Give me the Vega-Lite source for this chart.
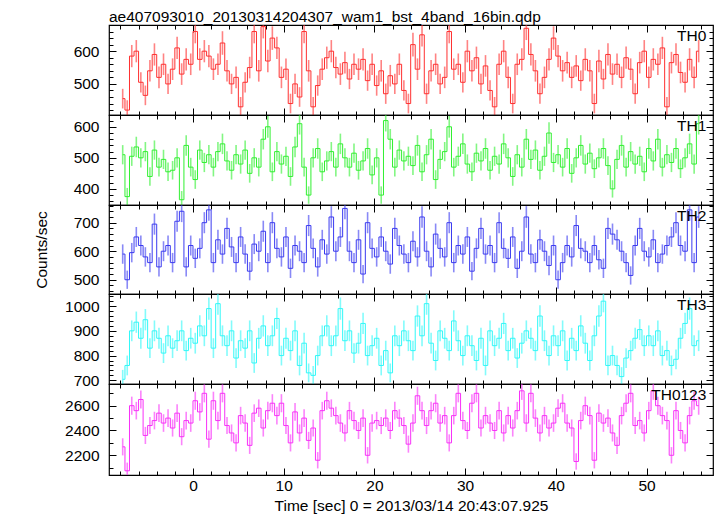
{
  "$schema": "https://vega.github.io/schema/vega-lite/v6.json",
  "background": "white",
  "padding": {"left": 33, "top": 9, "right": 6, "bottom": 2},
  "spacing": 0,
  "bounds": "flush",
  "datasets": {
    "lc": [
      {"t":-7.75,"a":455,"ea":30,"b":510,"eb":31,"c":590,"ec":34,"d":704,"ed":38,"e":2268,"ee":69},
      {"t":-7.25,"a":420,"ea":30,"b":375,"eb":28,"c":500,"ec":32,"d":760,"ed":40,"e":2075,"ee":66},
      {"t":-6.75,"a":585,"ea":34,"b":505,"eb":31,"c":595,"ec":34,"d":900,"ed":42,"e":2600,"ee":73},
      {"t":-6.25,"a":600,"ea":34,"b":535,"eb":33,"c":650,"ec":35,"d":935,"ed":43,"e":2560,"ee":71},
      {"t":-5.75,"a":505,"ea":31,"b":500,"eb":31,"c":620,"ec":35,"d":870,"ed":42,"e":2650,"ee":73},
      {"t":-5.25,"a":465,"ea":30,"b":520,"eb":31,"c":580,"ec":34,"d":945,"ed":43,"e":2360,"ee":69},
      {"t":-4.75,"a":540,"ea":33,"b":440,"eb":30,"c":560,"ec":34,"d":830,"ed":40,"e":2440,"ee":69},
      {"t":-4.25,"a":590,"ea":34,"b":525,"eb":31,"c":695,"ec":37,"d":900,"ed":42,"e":2480,"ee":71},
      {"t":-3.75,"a":520,"ea":33,"b":470,"eb":30,"c":545,"ec":34,"d":870,"ed":42,"e":2540,"ee":71},
      {"t":-3.25,"a":560,"ea":33,"b":495,"eb":31,"c":600,"ec":35,"d":810,"ed":40,"e":2460,"ee":71},
      {"t":-2.75,"a":500,"ea":31,"b":455,"eb":30,"c":620,"ec":35,"d":880,"ed":42,"e":2500,"ee":71},
      {"t":-2.25,"a":545,"ea":33,"b":460,"eb":30,"c":560,"ec":34,"d":830,"ed":40,"e":2420,"ee":69},
      {"t":-1.75,"a":610,"ea":34,"b":500,"eb":31,"c":705,"ec":37,"d":860,"ed":42,"e":2540,"ee":71},
      {"t":-1.25,"a":530,"ea":33,"b":365,"eb":28,"c":740,"ec":38,"d":900,"ed":42,"e":2350,"ee":69},
      {"t":-0.75,"a":575,"ea":34,"b":540,"eb":33,"c":545,"ec":34,"d":820,"ed":40,"e":2480,"ee":71},
      {"t":-0.25,"a":560,"ea":33,"b":470,"eb":30,"c":620,"ec":35,"d":870,"ed":42,"e":2460,"ee":71},
      {"t":0.25,"a":660,"ea":36,"b":430,"eb":30,"c":575,"ec":34,"d":850,"ed":42,"e":2640,"ee":73},
      {"t":0.75,"a":575,"ea":34,"b":525,"eb":31,"c":610,"ec":35,"d":920,"ed":43,"e":2550,"ee":71},
      {"t":1.25,"a":600,"ea":34,"b":485,"eb":31,"c":700,"ec":37,"d":880,"ed":42,"e":2700,"ee":73},
      {"t":1.75,"a":585,"ea":34,"b":510,"eb":31,"c":745,"ec":38,"d":990,"ed":45,"e":2330,"ee":69},
      {"t":2.25,"a":545,"ea":33,"b":470,"eb":30,"c":560,"ec":34,"d":830,"ed":40,"e":2640,"ee":73},
      {"t":2.75,"a":560,"ea":33,"b":520,"eb":31,"c":640,"ec":35,"d":1010,"ed":45,"e":2480,"ee":71},
      {"t":3.25,"a":625,"ea":36,"b":545,"eb":33,"c":590,"ec":34,"d":880,"ed":42,"e":2700,"ee":73},
      {"t":3.75,"a":540,"ea":33,"b":490,"eb":31,"c":680,"ec":37,"d":840,"ed":42,"e":2440,"ee":69},
      {"t":4.25,"a":500,"ea":31,"b":460,"eb":30,"c":615,"ec":35,"d":900,"ed":42,"e":2380,"ee":69},
      {"t":4.75,"a":520,"ea":33,"b":510,"eb":31,"c":560,"ec":34,"d":790,"ed":40,"e":2300,"ee":69},
      {"t":5.25,"a":430,"ea":30,"b":480,"eb":31,"c":650,"ec":35,"d":860,"ed":42,"e":2520,"ee":71},
      {"t":5.75,"a":505,"ea":31,"b":525,"eb":31,"c":590,"ec":34,"d":830,"ed":40,"e":2460,"ee":71},
      {"t":6.25,"a":550,"ea":33,"b":450,"eb":30,"c":530,"ec":32,"d":900,"ed":42,"e":2280,"ee":69},
      {"t":6.75,"a":660,"ea":36,"b":500,"eb":31,"c":625,"ec":35,"d":770,"ed":40,"e":2540,"ee":71},
      {"t":7.25,"a":540,"ea":33,"b":470,"eb":30,"c":600,"ec":35,"d":870,"ed":42,"e":2580,"ee":71},
      {"t":7.75,"a":675,"ea":36,"b":560,"eb":33,"c":670,"ec":37,"d":920,"ed":43,"e":2420,"ee":69},
      {"t":8.25,"a":570,"ea":34,"b":600,"eb":35,"c":560,"ec":34,"d":840,"ed":42,"e":2560,"ee":71},
      {"t":8.75,"a":640,"ea":36,"b":455,"eb":30,"c":700,"ec":37,"d":880,"ed":42,"e":2620,"ee":73},
      {"t":9.25,"a":610,"ea":34,"b":520,"eb":31,"c":610,"ec":35,"d":950,"ed":43,"e":2520,"ee":71},
      {"t":9.75,"a":520,"ea":33,"b":480,"eb":31,"c":580,"ec":34,"d":800,"ed":40,"e":2620,"ee":73},
      {"t":10.25,"a":545,"ea":33,"b":505,"eb":31,"c":650,"ec":35,"d":870,"ed":42,"e":2440,"ee":69},
      {"t":10.75,"a":440,"ea":30,"b":440,"eb":30,"c":540,"ec":34,"d":820,"ed":40,"e":2300,"ee":69},
      {"t":11.25,"a":500,"ea":31,"b":535,"eb":33,"c":620,"ec":35,"d":900,"ed":42,"e":2550,"ee":71},
      {"t":11.75,"a":460,"ea":30,"b":610,"eb":35,"c":600,"ec":35,"d":760,"ed":40,"e":2380,"ee":69},
      {"t":12.25,"a":660,"ea":36,"b":470,"eb":30,"c":560,"ec":34,"d":850,"ed":42,"e":2500,"ee":71},
      {"t":12.75,"a":540,"ea":33,"b":380,"eb":28,"c":690,"ec":37,"d":730,"ed":38,"e":2320,"ee":69},
      {"t":13.25,"a":430,"ea":30,"b":500,"eb":31,"c":610,"ec":35,"d":720,"ed":38,"e":2420,"ee":69},
      {"t":13.75,"a":495,"ea":31,"b":530,"eb":33,"c":545,"ec":34,"d":800,"ed":40,"e":2160,"ee":66},
      {"t":14.25,"a":545,"ea":33,"b":455,"eb":30,"c":640,"ec":35,"d":880,"ed":42,"e":2560,"ee":71},
      {"t":14.75,"a":580,"ea":34,"b":490,"eb":31,"c":590,"ec":34,"d":920,"ed":43,"e":2640,"ee":73},
      {"t":15.25,"a":600,"ea":34,"b":520,"eb":31,"c":720,"ec":38,"d":840,"ed":42,"e":2580,"ee":71},
      {"t":15.75,"a":550,"ea":33,"b":470,"eb":30,"c":600,"ec":35,"d":880,"ed":42,"e":2520,"ee":71},
      {"t":16.25,"a":530,"ea":33,"b":545,"eb":33,"c":650,"ec":35,"d":990,"ed":45,"e":2460,"ee":71},
      {"t":16.75,"a":565,"ea":33,"b":500,"eb":31,"c":750,"ec":38,"d":860,"ed":42,"e":2380,"ee":69},
      {"t":17.25,"a":515,"ea":31,"b":470,"eb":30,"c":600,"ec":35,"d":900,"ed":42,"e":2560,"ee":71},
      {"t":17.75,"a":560,"ea":33,"b":515,"eb":31,"c":560,"ec":34,"d":810,"ed":40,"e":2480,"ee":71},
      {"t":18.25,"a":545,"ea":33,"b":460,"eb":30,"c":640,"ec":35,"d":850,"ed":42,"e":2400,"ee":69},
      {"t":18.75,"a":575,"ea":34,"b":490,"eb":31,"c":520,"ec":32,"d":930,"ed":43,"e":2500,"ee":71},
      {"t":19.25,"a":510,"ea":31,"b":530,"eb":33,"c":700,"ec":37,"d":800,"ed":40,"e":2200,"ee":66},
      {"t":19.75,"a":560,"ea":33,"b":445,"eb":30,"c":610,"ec":35,"d":840,"ed":42,"e":2460,"ee":71},
      {"t":20.25,"a":495,"ea":31,"b":500,"eb":31,"c":580,"ec":34,"d":870,"ed":42,"e":2480,"ee":71},
      {"t":20.75,"a":540,"ea":33,"b":380,"eb":28,"c":650,"ec":35,"d":760,"ed":40,"e":2440,"ee":69},
      {"t":21.25,"a":470,"ea":31,"b":620,"eb":35,"c":600,"ec":35,"d":820,"ed":40,"e":2500,"ee":71},
      {"t":21.75,"a":525,"ea":33,"b":560,"eb":33,"c":555,"ec":34,"d":730,"ed":38,"e":2400,"ee":69},
      {"t":22.25,"a":500,"ea":31,"b":470,"eb":30,"c":680,"ec":37,"d":880,"ed":42,"e":2560,"ee":71},
      {"t":22.75,"a":560,"ea":33,"b":525,"eb":31,"c":620,"ec":35,"d":840,"ed":42,"e":2500,"ee":71},
      {"t":23.25,"a":480,"ea":31,"b":490,"eb":31,"c":590,"ec":34,"d":900,"ed":42,"e":2440,"ee":69},
      {"t":23.75,"a":440,"ea":30,"b":505,"eb":31,"c":560,"ec":34,"d":860,"ed":42,"e":2290,"ee":69},
      {"t":24.25,"a":620,"ea":36,"b":475,"eb":30,"c":635,"ec":35,"d":820,"ed":40,"e":2460,"ee":71},
      {"t":24.75,"a":545,"ea":33,"b":540,"eb":33,"c":580,"ec":34,"d":960,"ed":43,"e":2680,"ee":73},
      {"t":25.25,"a":650,"ea":36,"b":455,"eb":30,"c":720,"ec":38,"d":880,"ed":42,"e":2560,"ee":71},
      {"t":25.75,"a":470,"ea":31,"b":510,"eb":31,"c":600,"ec":35,"d":1010,"ed":45,"e":2440,"ee":69},
      {"t":26.25,"a":540,"ea":33,"b":560,"eb":33,"c":545,"ec":34,"d":850,"ed":42,"e":2560,"ee":71},
      {"t":26.75,"a":560,"ea":33,"b":430,"eb":30,"c":660,"ec":37,"d":780,"ed":40,"e":2620,"ee":73},
      {"t":27.25,"a":500,"ea":31,"b":495,"eb":31,"c":610,"ec":35,"d":900,"ed":42,"e":2460,"ee":71},
      {"t":27.75,"a":520,"ea":33,"b":520,"eb":31,"c":580,"ec":34,"d":870,"ed":42,"e":2520,"ee":71},
      {"t":28.25,"a":660,"ea":36,"b":600,"eb":35,"c":700,"ec":37,"d":820,"ed":40,"e":2300,"ee":69},
      {"t":28.75,"a":545,"ea":33,"b":470,"eb":30,"c":560,"ec":34,"d":940,"ed":43,"e":2520,"ee":71},
      {"t":29.25,"a":560,"ea":33,"b":505,"eb":31,"c":620,"ec":35,"d":860,"ed":42,"e":2700,"ee":73},
      {"t":29.75,"a":505,"ea":31,"b":545,"eb":33,"c":590,"ec":34,"d":800,"ed":40,"e":2480,"ee":71},
      {"t":30.25,"a":600,"ea":34,"b":480,"eb":31,"c":650,"ec":35,"d":880,"ed":42,"e":2400,"ee":69},
      {"t":30.75,"a":540,"ea":33,"b":455,"eb":30,"c":530,"ec":32,"d":840,"ed":42,"e":2620,"ee":73},
      {"t":31.25,"a":580,"ea":34,"b":515,"eb":31,"c":610,"ec":35,"d":780,"ed":40,"e":2700,"ee":73},
      {"t":31.75,"a":500,"ea":31,"b":490,"eb":31,"c":680,"ec":37,"d":870,"ed":42,"e":2420,"ee":69},
      {"t":32.25,"a":555,"ea":33,"b":530,"eb":33,"c":590,"ec":34,"d":760,"ed":40,"e":2520,"ee":71},
      {"t":32.75,"a":480,"ea":31,"b":460,"eb":30,"c":620,"ec":35,"d":900,"ed":42,"e":2460,"ee":71},
      {"t":33.25,"a":430,"ea":30,"b":505,"eb":31,"c":560,"ec":34,"d":840,"ed":42,"e":2400,"ee":69},
      {"t":33.75,"a":560,"ea":33,"b":480,"eb":31,"c":700,"ec":37,"d":870,"ed":42,"e":2560,"ee":71},
      {"t":34.25,"a":600,"ea":34,"b":545,"eb":33,"c":610,"ec":35,"d":930,"ed":43,"e":2380,"ee":69},
      {"t":34.75,"a":520,"ea":33,"b":500,"eb":31,"c":575,"ec":34,"d":820,"ed":40,"e":2520,"ee":71},
      {"t":35.25,"a":440,"ea":30,"b":440,"eb":30,"c":650,"ec":35,"d":870,"ed":42,"e":2420,"ee":69},
      {"t":35.75,"a":560,"ea":33,"b":510,"eb":31,"c":540,"ec":34,"d":790,"ed":40,"e":2560,"ee":71},
      {"t":36.25,"a":575,"ea":34,"b":470,"eb":30,"c":600,"ec":35,"d":850,"ed":42,"e":2720,"ee":73},
      {"t":36.75,"a":670,"ea":36,"b":560,"eb":33,"c":720,"ec":38,"d":900,"ed":42,"e":2460,"ee":71},
      {"t":37.25,"a":590,"ea":34,"b":495,"eb":31,"c":590,"ec":34,"d":870,"ed":42,"e":2700,"ee":73},
      {"t":37.75,"a":540,"ea":33,"b":525,"eb":31,"c":560,"ec":34,"d":820,"ed":40,"e":2500,"ee":71},
      {"t":38.25,"a":470,"ea":31,"b":460,"eb":30,"c":640,"ec":35,"d":960,"ed":43,"e":2380,"ee":69},
      {"t":38.75,"a":520,"ea":33,"b":505,"eb":31,"c":600,"ec":35,"d":860,"ed":42,"e":2520,"ee":71},
      {"t":39.25,"a":575,"ea":34,"b":580,"eb":35,"c":550,"ec":34,"d":800,"ed":40,"e":2420,"ee":69},
      {"t":39.75,"a":640,"ea":36,"b":485,"eb":31,"c":620,"ec":35,"d":880,"ed":42,"e":2460,"ee":71},
      {"t":40.25,"a":585,"ea":34,"b":510,"eb":31,"c":500,"ec":32,"d":840,"ed":42,"e":2580,"ee":71},
      {"t":40.75,"a":540,"ea":33,"b":470,"eb":30,"c":560,"ec":34,"d":900,"ed":42,"e":2620,"ee":73},
      {"t":41.25,"a":565,"ea":33,"b":530,"eb":33,"c":620,"ec":35,"d":780,"ed":40,"e":2460,"ee":71},
      {"t":41.75,"a":520,"ea":33,"b":450,"eb":30,"c":580,"ec":34,"d":870,"ed":42,"e":2420,"ee":69},
      {"t":42.25,"a":555,"ea":33,"b":500,"eb":31,"c":690,"ec":37,"d":820,"ed":40,"e":2150,"ee":66},
      {"t":42.75,"a":510,"ea":31,"b":540,"eb":33,"c":610,"ec":35,"d":920,"ed":43,"e":2480,"ee":71},
      {"t":43.25,"a":575,"ea":34,"b":480,"eb":31,"c":600,"ec":35,"d":850,"ed":42,"e":2600,"ee":73},
      {"t":43.75,"a":540,"ea":33,"b":515,"eb":31,"c":560,"ec":34,"d":780,"ed":40,"e":2520,"ee":71},
      {"t":44.25,"a":440,"ea":30,"b":465,"eb":30,"c":620,"ec":35,"d":880,"ed":42,"e":2160,"ee":66},
      {"t":44.75,"a":570,"ea":34,"b":500,"eb":31,"c":570,"ec":34,"d":960,"ed":43,"e":2540,"ee":71},
      {"t":45.25,"a":515,"ea":31,"b":530,"eb":33,"c":540,"ec":34,"d":1020,"ed":45,"e":2460,"ee":71},
      {"t":45.75,"a":590,"ea":34,"b":475,"eb":30,"c":680,"ec":37,"d":760,"ed":40,"e":2500,"ee":71},
      {"t":46.25,"a":530,"ea":33,"b":400,"eb":28,"c":660,"ec":37,"d":800,"ed":40,"e":2380,"ee":69},
      {"t":46.75,"a":560,"ea":33,"b":495,"eb":31,"c":640,"ec":35,"d":760,"ed":40,"e":2280,"ee":69},
      {"t":47.25,"a":520,"ea":33,"b":540,"eb":33,"c":600,"ec":35,"d":715,"ed":38,"e":2520,"ee":71},
      {"t":47.75,"a":580,"ea":34,"b":470,"eb":30,"c":560,"ec":34,"d":790,"ed":40,"e":2620,"ee":73},
      {"t":48.25,"a":545,"ea":33,"b":520,"eb":31,"c":515,"ec":32,"d":820,"ed":40,"e":2700,"ee":73},
      {"t":48.75,"a":470,"ea":31,"b":480,"eb":31,"c":620,"ec":35,"d":870,"ed":42,"e":2440,"ee":69},
      {"t":49.25,"a":565,"ea":33,"b":505,"eb":31,"c":680,"ec":37,"d":905,"ed":42,"e":2480,"ee":71},
      {"t":49.75,"a":600,"ea":34,"b":455,"eb":30,"c":600,"ec":35,"d":840,"ed":42,"e":2380,"ee":69},
      {"t":50.25,"a":520,"ea":33,"b":530,"eb":33,"c":580,"ec":34,"d":880,"ed":42,"e":2560,"ee":71},
      {"t":50.75,"a":575,"ea":34,"b":490,"eb":31,"c":640,"ec":35,"d":840,"ed":42,"e":2720,"ee":73},
      {"t":51.25,"a":560,"ea":33,"b":560,"eb":33,"c":560,"ec":34,"d":900,"ed":42,"e":2600,"ee":73},
      {"t":51.75,"a":610,"ea":34,"b":470,"eb":30,"c":590,"ec":34,"d":800,"ed":40,"e":2520,"ee":71},
      {"t":52.25,"a":430,"ea":30,"b":510,"eb":31,"c":620,"ec":35,"d":820,"ed":40,"e":2480,"ee":71},
      {"t":52.75,"a":565,"ea":33,"b":485,"eb":31,"c":650,"ec":35,"d":760,"ed":40,"e":2200,"ee":66},
      {"t":53.25,"a":590,"ea":34,"b":530,"eb":33,"c":700,"ec":37,"d":785,"ed":40,"e":2560,"ee":71},
      {"t":53.75,"a":535,"ea":33,"b":465,"eb":30,"c":620,"ec":35,"d":870,"ed":42,"e":2400,"ee":69},
      {"t":54.25,"a":505,"ea":31,"b":500,"eb":31,"c":600,"ec":35,"d":930,"ed":43,"e":2300,"ee":69},
      {"t":54.75,"a":575,"ea":34,"b":545,"eb":33,"c":745,"ec":38,"d":990,"ed":45,"e":2520,"ee":71},
      {"t":55.25,"a":520,"ea":33,"b":480,"eb":31,"c":560,"ec":34,"d":840,"ed":42,"e":2640,"ee":73},
      {"t":55.75,"a":600,"ea":34,"b":610,"eb":35,"c":720,"ec":38,"d":860,"ed":42,"e":2600,"ee":73}
    ]
  },
  "vconcat": [
    {
      "width": 604, "height": 90,
      "title": {"text": "ae407093010_20130314204307_wam1_bst_4band_16bin.qdp", "anchor": "start", "frame": "group", "font": "Liberation Sans", "fontSize": 15.5, "fontWeight": "normal", "color": "black", "offset": -1},
      "data": {"name": "lc"},
      "layer": [
        {"mark": {"type": "errorbar", "color": "#ff3030", "thickness": 1.6, "opacity": 0.6, "clip": true},
         "encoding": {
           "x": {"field": "t", "type": "quantitative", "scale": {"domain": [-9.26, 57.33], "nice": false, "zero": false},
                 "axis": {"orient": "bottom", "values": [-8,-6,-4,-2,0,2,4,6,8,10,12,14,16,18,20,22,24,26,28,30,32,34,36,38,40,42,44,46,48,50,52,54,56], "labels": false, "title": null, "tickSize": {"condition": {"test": "datum.value % 10 === 0", "value": -7}, "value": -4}}},
           "y": {"field": "a", "type": "quantitative", "scale": {"domain": [405, 680], "nice": false, "zero": false},
                 "axis": {"orient": "left", "values": [420,440,460,480,500,520,540,560,580,600,620,640,660], "format": "d", "labelExpr": "datum.value % 100 === 0 ? datum.label : ''", "labelPadding": 17, "title": null, "tickSize": {"condition": {"test": "datum.value % 100 === 0", "value": -7}, "value": -4}}},
           "yError": {"field": "ea"}
         }},
        {"mark": {"type": "line", "interpolate": "step", "color": "#ff3030", "strokeWidth": 1, "clip": true},
         "encoding": {
           "x": {"field": "t", "type": "quantitative", "axis": {"orient": "top", "values": [-8,-6,-4,-2,0,2,4,6,8,10,12,14,16,18,20,22,24,26,28,30,32,34,36,38,40,42,44,46,48,50,52,54,56], "labels": false, "title": null, "tickSize": {"condition": {"test": "datum.value % 10 === 0", "value": -7}, "value": -4}}},
           "y": {"field": "a", "type": "quantitative", "axis": {"orient": "right", "values": [420,440,460,480,500,520,540,560,580,600,620,640,660], "labels": false, "title": null, "tickSize": {"condition": {"test": "datum.value % 100 === 0", "value": -7}, "value": -4}}}
         }},
        {"data": {"values": [{"lab": "TH0"}]},
         "mark": {"type": "text", "align": "right", "baseline": "top", "font": "Liberation Sans", "fontSize": 15.5, "color": "black", "dy": 4},
         "encoding": {"x": {"datum": 56.6, "type": "quantitative", "axis": null}, "y": {"datum": 680, "type": "quantitative", "axis": null}, "text": {"field": "lab"}}}
      ],
      "resolve": {"axis": {"x": "independent", "y": "independent"}}
    },
    {
      "width": 604, "height": 90,
      "data": {"name": "lc"},
      "layer": [
        {"mark": {"type": "errorbar", "color": "#30f030", "thickness": 1.6, "opacity": 0.6, "clip": true},
         "encoding": {
           "x": {"field": "t", "type": "quantitative", "scale": {"domain": [-9.26, 57.33], "nice": false, "zero": false},
                 "axis": {"orient": "bottom", "values": [-8,-6,-4,-2,0,2,4,6,8,10,12,14,16,18,20,22,24,26,28,30,32,34,36,38,40,42,44,46,48,50,52,54,56], "labels": false, "title": null, "tickSize": {"condition": {"test": "datum.value % 10 === 0", "value": -7}, "value": -4}}},
           "y": {"field": "b", "type": "quantitative", "scale": {"domain": [348, 638], "nice": false, "zero": false},
                 "axis": {"orient": "left", "values": [360,380,400,420,440,460,480,500,520,540,560,580,600,620], "format": "d", "labelExpr": "datum.value % 100 === 0 ? datum.label : ''", "labelPadding": 17, "title": null, "tickSize": {"condition": {"test": "datum.value % 100 === 0", "value": -7}, "value": -4}}},
           "yError": {"field": "eb"}
         }},
        {"mark": {"type": "line", "interpolate": "step", "color": "#30f030", "strokeWidth": 1, "clip": true},
         "encoding": {
           "x": {"field": "t", "type": "quantitative", "axis": {"orient": "top", "values": [-8,-6,-4,-2,0,2,4,6,8,10,12,14,16,18,20,22,24,26,28,30,32,34,36,38,40,42,44,46,48,50,52,54,56], "labels": false, "title": null, "tickSize": {"condition": {"test": "datum.value % 10 === 0", "value": -7}, "value": -4}}},
           "y": {"field": "b", "type": "quantitative", "axis": {"orient": "right", "values": [360,380,400,420,440,460,480,500,520,540,560,580,600,620], "labels": false, "title": null, "tickSize": {"condition": {"test": "datum.value % 100 === 0", "value": -7}, "value": -4}}}
         }},
        {"data": {"values": [{"lab": "TH1"}]},
         "mark": {"type": "text", "align": "right", "baseline": "top", "font": "Liberation Sans", "fontSize": 15.5, "color": "black", "dy": 4},
         "encoding": {"x": {"datum": 56.6, "type": "quantitative", "axis": null}, "y": {"datum": 638, "type": "quantitative", "axis": null}, "text": {"field": "lab"}}}
      ],
      "resolve": {"axis": {"x": "independent", "y": "independent"}}
    },
    {
      "width": 604, "height": 89,
      "data": {"name": "lc"},
      "layer": [
        {"mark": {"type": "errorbar", "color": "#3a3af0", "thickness": 1.6, "opacity": 0.6, "clip": true},
         "encoding": {
           "x": {"field": "t", "type": "quantitative", "scale": {"domain": [-9.26, 57.33], "nice": false, "zero": false},
                 "axis": {"orient": "bottom", "values": [-8,-6,-4,-2,0,2,4,6,8,10,12,14,16,18,20,22,24,26,28,30,32,34,36,38,40,42,44,46,48,50,52,54,56], "labels": false, "title": null, "tickSize": {"condition": {"test": "datum.value % 10 === 0", "value": -7}, "value": -4}}},
           "y": {"field": "c", "type": "quantitative", "scale": {"domain": [450, 762], "nice": false, "zero": false},
                 "axis": {"orient": "left", "values": [460,480,500,520,540,560,580,600,620,640,660,680,700,720,740,760], "format": "d", "labelExpr": "datum.value % 100 === 0 ? datum.label : ''", "labelPadding": 17, "title": "Counts/sec", "titlePadding": 24, "tickSize": {"condition": {"test": "datum.value % 100 === 0", "value": -7}, "value": -4}}},
           "yError": {"field": "ec"}
         }},
        {"mark": {"type": "line", "interpolate": "step", "color": "#3a3af0", "strokeWidth": 1, "clip": true},
         "encoding": {
           "x": {"field": "t", "type": "quantitative", "axis": {"orient": "top", "values": [-8,-6,-4,-2,0,2,4,6,8,10,12,14,16,18,20,22,24,26,28,30,32,34,36,38,40,42,44,46,48,50,52,54,56], "labels": false, "title": null, "tickSize": {"condition": {"test": "datum.value % 10 === 0", "value": -7}, "value": -4}}},
           "y": {"field": "c", "type": "quantitative", "axis": {"orient": "right", "values": [460,480,500,520,540,560,580,600,620,640,660,680,700,720,740,760], "labels": false, "title": null, "tickSize": {"condition": {"test": "datum.value % 100 === 0", "value": -7}, "value": -4}}}
         }},
        {"data": {"values": [{"lab": "TH2"}]},
         "mark": {"type": "text", "align": "right", "baseline": "top", "font": "Liberation Sans", "fontSize": 15.5, "color": "black", "dy": 4},
         "encoding": {"x": {"datum": 56.6, "type": "quantitative", "axis": null}, "y": {"datum": 762, "type": "quantitative", "axis": null}, "text": {"field": "lab"}}}
      ],
      "resolve": {"axis": {"x": "independent", "y": "independent"}}
    },
    {
      "width": 604, "height": 90,
      "data": {"name": "lc"},
      "layer": [
        {"mark": {"type": "errorbar", "color": "#30f8f8", "thickness": 1.6, "opacity": 0.6, "clip": true},
         "encoding": {
           "x": {"field": "t", "type": "quantitative", "scale": {"domain": [-9.26, 57.33], "nice": false, "zero": false},
                 "axis": {"orient": "bottom", "values": [-8,-6,-4,-2,0,2,4,6,8,10,12,14,16,18,20,22,24,26,28,30,32,34,36,38,40,42,44,46,48,50,52,54,56], "labels": false, "title": null, "tickSize": {"condition": {"test": "datum.value % 10 === 0", "value": -7}, "value": -4}}},
           "y": {"field": "d", "type": "quantitative", "scale": {"domain": [685, 1049], "nice": false, "zero": false},
                 "axis": {"orient": "left", "values": [700,720,740,760,780,800,820,840,860,880,900,920,940,960,980,1000,1020,1040], "format": "d", "labelExpr": "datum.value % 100 === 0 ? datum.label : ''", "labelPadding": 17, "title": null, "tickSize": {"condition": {"test": "datum.value % 100 === 0", "value": -7}, "value": -4}}},
           "yError": {"field": "ed"}
         }},
        {"mark": {"type": "line", "interpolate": "step", "color": "#30f8f8", "strokeWidth": 1, "clip": true},
         "encoding": {
           "x": {"field": "t", "type": "quantitative", "axis": {"orient": "top", "values": [-8,-6,-4,-2,0,2,4,6,8,10,12,14,16,18,20,22,24,26,28,30,32,34,36,38,40,42,44,46,48,50,52,54,56], "labels": false, "title": null, "tickSize": {"condition": {"test": "datum.value % 10 === 0", "value": -7}, "value": -4}}},
           "y": {"field": "d", "type": "quantitative", "axis": {"orient": "right", "values": [700,720,740,760,780,800,820,840,860,880,900,920,940,960,980,1000,1020,1040], "labels": false, "title": null, "tickSize": {"condition": {"test": "datum.value % 100 === 0", "value": -7}, "value": -4}}}
         }},
        {"data": {"values": [{"lab": "TH3"}]},
         "mark": {"type": "text", "align": "right", "baseline": "top", "font": "Liberation Sans", "fontSize": 15.5, "color": "black", "dy": 4},
         "encoding": {"x": {"datum": 56.6, "type": "quantitative", "axis": null}, "y": {"datum": 1049, "type": "quantitative", "axis": null}, "text": {"field": "lab"}}}
      ],
      "resolve": {"axis": {"x": "independent", "y": "independent"}}
    },
    {
      "width": 604, "height": 91,
      "data": {"name": "lc"},
      "layer": [
        {"mark": {"type": "errorbar", "color": "#f830f8", "thickness": 1.6, "opacity": 0.6, "clip": true},
         "encoding": {
           "x": {"field": "t", "type": "quantitative", "scale": {"domain": [-9.26, 57.33], "nice": false, "zero": false},
                 "axis": {"orient": "bottom", "values": [-8,-6,-4,-2,0,2,4,6,8,10,12,14,16,18,20,22,24,26,28,30,32,34,36,38,40,42,44,46,48,50,52,54,56], "format": "d", "labelExpr": "datum.value % 10 === 0 ? datum.label : ''", "labelPadding": 10, "title": "Time [sec] 0 = 2013/03/14 20:43:07.925", "titlePadding": 2, "tickSize": {"condition": {"test": "datum.value % 10 === 0", "value": -7}, "value": -4}}},
           "y": {"field": "e", "type": "quantitative", "scale": {"domain": [2041, 2775], "nice": false, "zero": false},
                 "axis": {"orient": "left", "values": [2100,2200,2300,2400,2500,2600,2700], "format": "d", "labelExpr": "datum.value % 200 === 0 ? datum.label : ''", "labelPadding": 17, "title": null, "tickSize": {"condition": {"test": "datum.value % 200 === 0", "value": -7}, "value": -4}}},
           "yError": {"field": "ee"}
         }},
        {"mark": {"type": "line", "interpolate": "step", "color": "#f830f8", "strokeWidth": 1, "clip": true},
         "encoding": {
           "x": {"field": "t", "type": "quantitative", "axis": {"orient": "top", "values": [-8,-6,-4,-2,0,2,4,6,8,10,12,14,16,18,20,22,24,26,28,30,32,34,36,38,40,42,44,46,48,50,52,54,56], "labels": false, "title": null, "tickSize": {"condition": {"test": "datum.value % 10 === 0", "value": -7}, "value": -4}}},
           "y": {"field": "e", "type": "quantitative", "axis": {"orient": "right", "values": [2100,2200,2300,2400,2500,2600,2700], "labels": false, "title": null, "tickSize": {"condition": {"test": "datum.value % 200 === 0", "value": -7}, "value": -4}}}
         }},
        {"data": {"values": [{"lab": "TH0123"}]},
         "mark": {"type": "text", "align": "right", "baseline": "top", "font": "Liberation Sans", "fontSize": 15.5, "color": "black", "dy": 4},
         "encoding": {"x": {"datum": 56.6, "type": "quantitative", "axis": null}, "y": {"datum": 2775, "type": "quantitative", "axis": null}, "text": {"field": "lab"}}}
      ],
      "resolve": {"axis": {"x": "independent", "y": "independent"}}
    }
  ],
  "config": {
    "view": {"stroke": "black", "strokeWidth": 1.2},
    "font": "Liberation Sans",
    "axis": {
      "domain": false,
      "grid": false,
      "tickColor": "black",
      "tickWidth": 1,
      "labelFont": "Liberation Sans",
      "labelFontSize": 15.5,
      "labelColor": "black",
      "labelFlush": false,
      "labelOverlap": false,
      "titleFont": "Liberation Sans",
      "titleFontSize": 15.5,
      "titleFontWeight": "normal",
      "titleColor": "black"
    }
  }
}
